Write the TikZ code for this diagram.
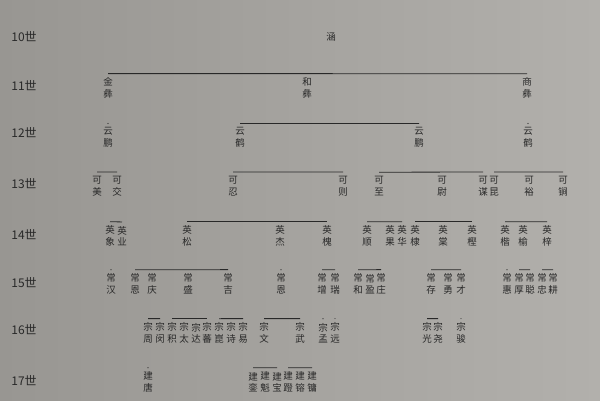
\documentclass[tikz,border=0pt]{standalone}
\usepackage{fontspec}
\newfontfamily\cjk{Noto Sans CJK SC}
\usetikzlibrary{positioning}

\definecolor{paperL}{RGB}{152,150,146}
\definecolor{paperR}{RGB}{178,176,172}
\definecolor{ink}{RGB}{40,40,40}

\tikzset{
  ren/.style={font=\cjk\fontsize{9.5}{11.5}\selectfont, align=center, inner sep=0pt, text=ink},
  shi/.style={font=\cjk\fontsize{12}{14}\selectfont, inner sep=0pt, text=ink},
  kin/.style={draw=ink, line width=0.8pt}
}

\begin{document}
\begin{tikzpicture}[x=1pt, y=-1pt]
% paper
\shade[left color=paperL, right color=paperR] (0,0) rectangle (600,400);
\useasboundingbox (0,0) rectangle (600,400);

% generation labels
\foreach \g/\y in {10/37,11/86,12/133,13/184,14/235,15/283,16/330,17/381}
  \node[shi] (shi\g) at (24,\y) {\g{}世};

% 10th
\node[ren] (han) at (331,37) {涵};

% 11th
\node[ren] (jin) at (108,88) {金\\彝};
\node[ren] (he) at (307,88) {和\\彝};
\node[ren] (shang) at (527,88) {商\\彝};
\draw[kin] ([yshift=4pt]jin.north) -- ([yshift=4pt]shang.north);

% 12th
\node[ren] (yp1) at (108,137.5) {云\\鹏};
\node[ren] (yh1) at (240,137.5) {云\\鹤};
\node[ren] (yp2) at (419,137.5) {云\\鹏};
\node[ren] (yh2) at (528,137.5) {云\\鹤};
\draw[kin] ([yshift=4pt]yh1.north) -- ([yshift=4pt]yp2.north);
\fill[ink] ([yshift=4pt]yp1.north) circle (0.6pt);
\fill[ink] ([yshift=4pt]yh2.north) circle (0.6pt);

% 13th
\foreach \nm/\x/\t in {k1/97/美,k2/117/交,k3/233/忍,k4/343/则,k5/379/至,
    k6/442/尉,k7/483/谋,k8/494/昆,k9/529/裕,k10/563/锏}
  \node[ren] (\nm) at (\x,186) {可\\\t};
\draw[kin] ([yshift=4pt]k1.north) -- ([yshift=4pt]k2.north);
\draw[kin] ([yshift=4pt]k3.north) -- ([yshift=4pt]k4.north);
\draw[kin] ([yshift=4pt]k5.north) -- ([yshift=4pt]k7.north);
\draw[kin] ([yshift=4pt]k8.north) -- ([yshift=4pt]k10.north);

% 14th
\foreach \nm/\x/\t in {y1/110/象,y2/122/业,y3/187/松,y4/280/杰,y5/327/槐,
    y6/367/顺,y7/390/果,y8/402/华,y9/415/棣,y10/443/棠,y11/472/樫,
    y12/505/楷,y13/523/榆,y14/547/梓}
  \node[ren] (\nm) at (\x,236) {英\\\t};
\draw[kin] ([yshift=4pt]y1.north) -- ([yshift=4pt]y2.north);
\draw[kin] ([yshift=4pt]y3.north) -- ([yshift=4pt]y5.north);
\draw[kin] ([yshift=4pt]y6.north) -- ([yshift=4pt]y8.north);
\draw[kin] ([yshift=4pt]y9.north) -- ([yshift=4pt]y11.north);
\draw[kin] ([yshift=4pt]y12.north) -- ([yshift=4pt]y14.north);

% 15th
\foreach \nm/\x/\t in {c1/111/汉,c2/135/恩,c3/152/庆,c4/188/盛,c5/228/吉,
    c6/281/恩,c7/322/增,c8/335/瑞,c9/358/和,c10/370/盈,c11/381/庄,
    c12/431/存,c13/448/勇,c14/461/才,c15/507/惠,c16/519/厚,c17/530/聪,
    c18/542/忠,c19/553/耕}
  \node[ren] (\nm) at (\x,284) {常\\\t};
\draw[kin] ([yshift=4pt]c2.north) -- ([yshift=4pt]c5.north);
\draw[kin] ([yshift=4pt]c7.north) -- ([yshift=4pt]c8.north);
\draw[kin] ([yshift=4pt]c9.north) -- ([yshift=4pt]c11.north);
\draw[kin] ([yshift=4pt]c12.north) -- ([yshift=4pt]c14.north);
\draw[kin] ([yshift=4pt]c16.north) -- ([yshift=4pt]c17.north);
\draw[kin] ([yshift=4pt]c18.north) -- ([yshift=4pt]c19.north);
\foreach \nm in {c1,c6,c15}
  \fill[ink] ([yshift=4pt]\nm.north) circle (0.6pt);

% 16th
\foreach \nm/\x/\t in {z1/148/周,z2/160/闵,z3/172/积,z4/184/太,z5/196/达,
    z6/207/蕃,z7/219/崑,z8/231/诗,z9/243/易,z10/264/文,z11/300/武,
    z12/323/孟,z13/335/远,z14/427/光,z15/438/尧,z16/461/骏}
  \node[ren] (\nm) at (\x,333) {宗\\\t};
\draw[kin] ([yshift=4pt]z1.north) -- ([yshift=4pt]z2.north);
\draw[kin] ([yshift=4pt]z3.north) -- ([yshift=4pt]z6.north);
\draw[kin] ([yshift=4pt]z7.north) -- ([yshift=4pt]z9.north);
\draw[kin] ([yshift=4pt]z10.north) -- ([yshift=4pt]z11.north);
\draw[kin] ([yshift=4pt]z14.north) -- ([yshift=4pt]z15.north);
\foreach \nm in {z12,z13,z16}
  \fill[ink] ([yshift=4pt]\nm.north) circle (0.6pt);

% 17th
\foreach \nm/\x/\t in {j1/148/唐,j2/253/銮,j3/265/魁,j4/277/宝,j5/288/蹬,
    j6/300/镕,j7/312/镛}
  \node[ren] (\nm) at (\x,382) {建\\\t};
\draw[kin] ([yshift=4pt]j2.north) -- ([yshift=4pt]j4.north);
\draw[kin] ([yshift=4pt]j5.north) -- ([yshift=4pt]j7.north);
\fill[ink] ([yshift=4pt]j1.north) circle (0.6pt);

\end{tikzpicture}
\end{document}
